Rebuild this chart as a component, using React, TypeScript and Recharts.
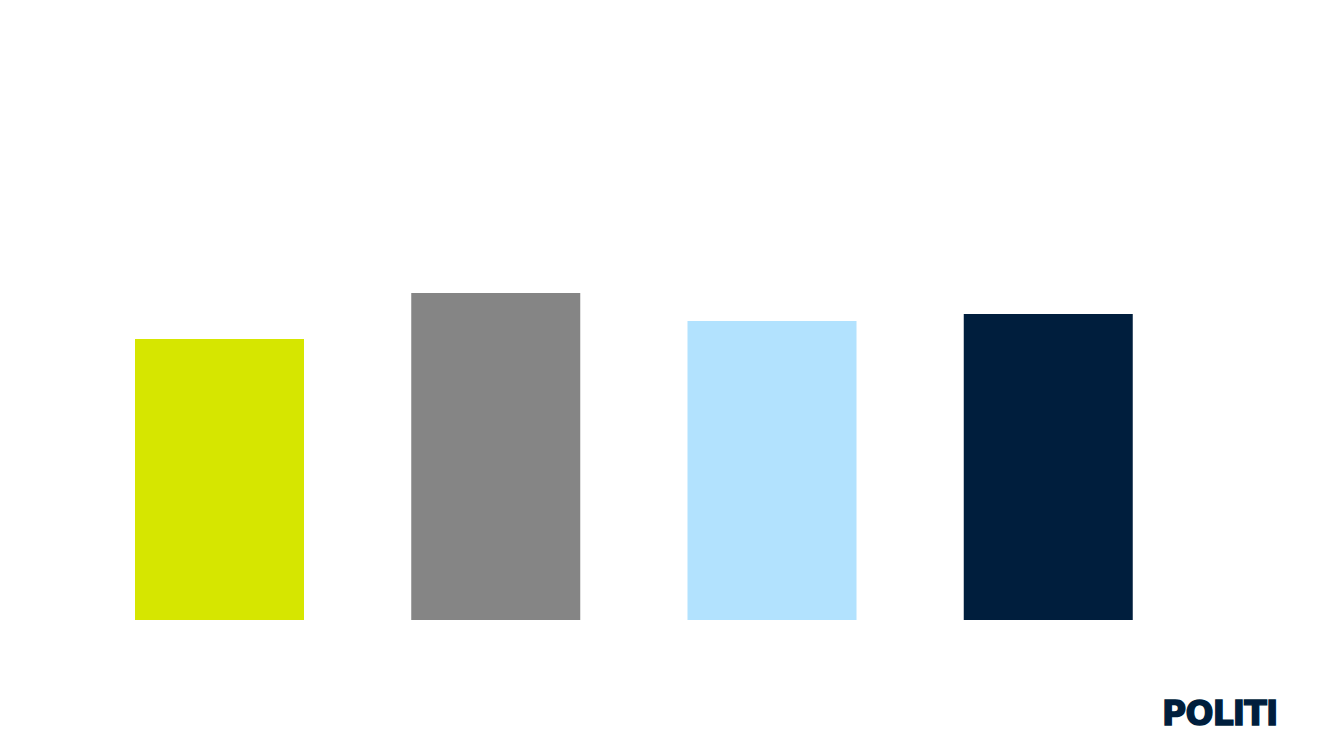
import React from 'react';
import { BarChart, Bar, Cell, XAxis, YAxis } from 'recharts';

const LIME = '#d6e600';
const GRAY = '#858585';
const SKY = '#b2e2fe';
const NAVY = '#001e3d';

// four groups, no labels shown in the reference
const categories = ['A', 'B', 'C', 'D'];
const values = [281, 327, 299, 306];
const colors = [LIME, GRAY, SKY, NAVY];

const data = categories.map((name, i) => ({ name, value: values[i] }));

export default function App() {
  return (
    <div style={{ position: 'absolute', left: 0, top: 0, width: 1333, height: 750, background: '#fff' }}>
      <BarChart
        width={1333}
        height={750}
        data={data}
        margin={{ top: 220, right: 147, left: 81, bottom: 130 }}
        barCategoryGap={0}
      >
        <XAxis dataKey="name" hide />
        <YAxis hide domain={[0, 400]} />
        <Bar dataKey="value" barSize={169} isAnimationActive={false}>
          {data.map((_, index) => (
            <Cell key={`cell-${index}`} fill={colors[index]} />
          ))}
        </Bar>
      </BarChart>
      <svg width={1333} height={750} style={{ position: 'absolute', left: 0, top: 0, pointerEvents: 'none' }}>
        <text
          x={1162}
          y={724.5}
          fill={NAVY}
          stroke={NAVY}
          strokeWidth={1.4}
          fontFamily="DejaVu Sans"
          fontWeight="bold"
          fontSize={33}
          letterSpacing={-0.8}
        >
          POLITI
        </text>
      </svg>
    </div>
  );
}
